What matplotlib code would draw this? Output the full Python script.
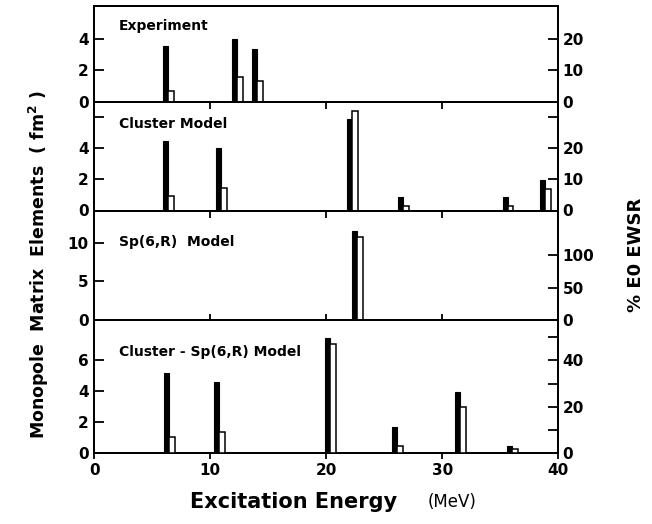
import matplotlib
matplotlib.use("Agg")
import matplotlib.pyplot as plt

# ---------------- data ----------------
panel_titles = ["Experiment", "Cluster Model", "Sp(6,R)  Model", "Cluster - Sp(6,R) Model"]

exp_energy = [6.1, 12.1, 13.8]
exp_matrix = [3.56, 3.99, 3.35]
exp_ewsr = [3.4, 8.0, 6.6]

cl_energy = [6.1, 10.7, 22.0, 26.4, 35.4, 38.6]
cl_matrix = [4.45, 4.02, 5.90, 0.90, 0.84, 1.98]
cl_ewsr = [4.7, 7.2, 31.9, 1.3, 1.3, 6.9]

sp_energy = [22.4]
sp_matrix = [11.55]
sp_ewsr = [128.0]

csp_energy = [6.2, 10.5, 20.1, 25.9, 31.3, 35.8]
csp_matrix = [5.16, 4.60, 7.46, 1.70, 3.95, 0.47]
csp_ewsr = [7.0, 9.3, 46.9, 3.1, 20.0, 1.7]

x_ticks = [0, 10, 20, 30, 40]
left_ticks = [[0, 2, 4], [0, 2, 4, 6], [0, 5, 10], [0, 2, 4, 6]]
left_labeled = [[0, 2, 4], [0, 2, 4], [0, 5, 10], [0, 2, 4, 6]]
right_ticks = [[0, 10, 20], [0, 10, 20, 30], [0, 50, 100], [0, 10, 20, 30, 40, 50]]
right_labeled = [[0, 10, 20], [0, 10, 20], [0, 50, 100], [0, 20, 40]]

# ---------------- layout / style ----------------
W, H = 652, 524
x0_px, x1_px = 94.3, 558.3
panel_px = [(6.0, 101.7), (101.7, 210.5), (210.5, 320.0), (320.0, 453.3)]
left_ylim = [6.1, 7.0, 14.2, 8.6]
ratio = [5.0, 5.0, 11.9, 6.67]
black_w, open_w, black_off = 0.43, 0.5, -0.2
title_y = [26, 124, 241.7, 352.3]

data = [
    (exp_energy, exp_matrix, exp_ewsr),
    (cl_energy, cl_matrix, cl_ewsr),
    (sp_energy, sp_matrix, sp_ewsr),
    (csp_energy, csp_matrix, csp_ewsr),
]

fig = plt.figure(figsize=(W / 100, H / 100), dpi=100)
lw = 1.4
for i, ((E, M, S), (ptop, pbot)) in enumerate(zip(data, panel_px)):
    ax = fig.add_axes([x0_px / W, 1 - pbot / H, (x1_px - x0_px) / W, (pbot - ptop) / H])
    ax2 = ax.twinx()
    ax.set_xlim(0, 40)
    ax.set_ylim(0, left_ylim[i])
    ax2.set_ylim(0, left_ylim[i] * ratio[i])
    ax.bar([e + black_off for e in E], M, width=black_w, align="edge",
           color="black", edgecolor="black", linewidth=0.8, zorder=3)
    ax2.bar([e + black_off + black_w for e in E], S, width=open_w, align="edge",
            facecolor="white", edgecolor="black", linewidth=1.1, zorder=3)
    for a in (ax, ax2):
        for sp in a.spines.values():
            sp.set_linewidth(lw)

    ax.set_yticks(left_ticks[i])
    ax.set_yticklabels([str(t) if t in left_labeled[i] else "" for t in left_ticks[i]],
                       fontweight="bold")
    ax2.set_yticks(right_ticks[i])
    ax2.set_yticklabels([str(t) if t in right_labeled[i] else "" for t in right_ticks[i]],
                        fontweight="bold")
    ax.tick_params(axis="y", direction="in", length=7, width=1.3, labelsize=11, pad=4)
    ax2.tick_params(axis="y", direction="in", length=7, width=1.3, labelsize=11, pad=3)

    ax.set_xticks(x_ticks)
    if i == 3:
        ax.tick_params(axis="x", direction="out", length=4, width=1.3, labelsize=11,
                       top=True, bottom=True, pad=3)
        ax.set_xticklabels([str(t) for t in x_ticks], fontweight="bold")
    else:
        ax.tick_params(axis="x", direction="in", length=5, width=1.3,
                       top=(i != 0), bottom=False, labelbottom=False)

    fig.text(119 / W, 1 - title_y[i] / H, panel_titles[i],
             fontsize=10, fontweight="bold", va="center", ha="left")

fig.text(39 / W, 1 - 265 / H, "Monopole  Matrix  Elements  ( fm$^\\mathbf{2}$ )",
         rotation=90, fontsize=12.5, fontweight="bold", ha="center", va="center")
fig.text(636 / W, 1 - 255 / H, "% E0 EWSR", rotation=90, fontsize=13,
         fontweight="bold", ha="center", va="center")
fig.text(190 / W, 1 - 502 / H, "Excitation Energy", fontsize=15,
         fontweight="bold", ha="left", va="center")
fig.text(428 / W, 1 - 502 / H, "(MeV)", fontsize=12, ha="left", va="center")

fig.savefig("out.png", dpi=100)
